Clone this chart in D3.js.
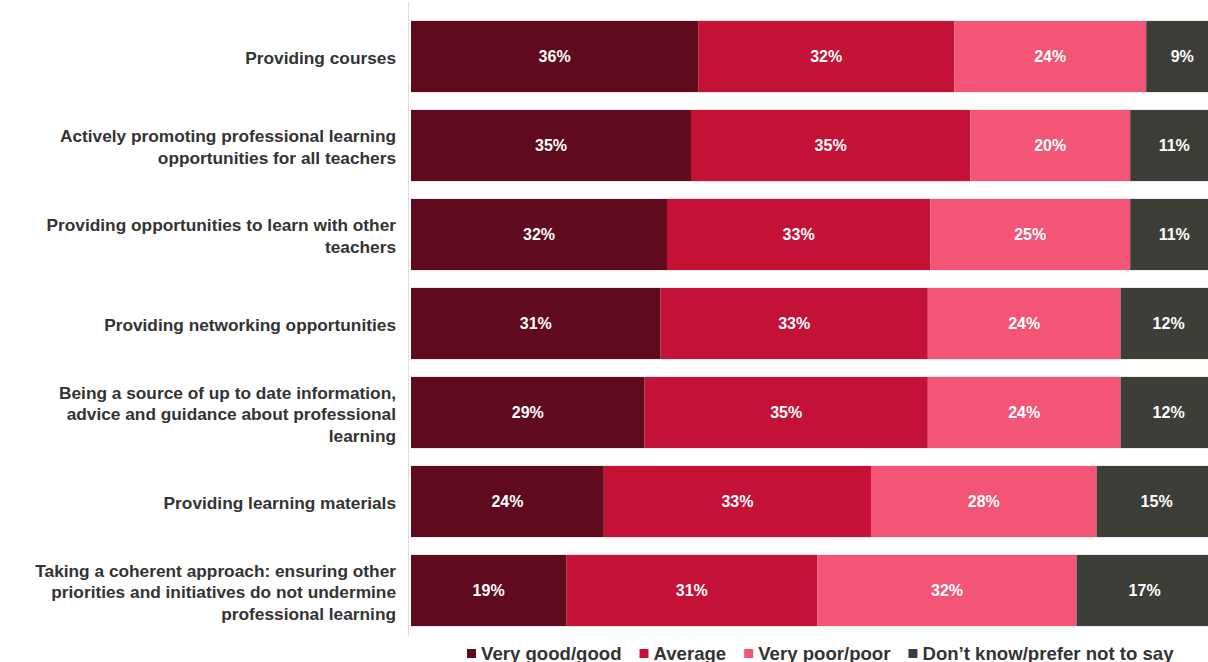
<!DOCTYPE html>
<html><head><meta charset="utf-8">
<script src="https://cdn.jsdelivr.net/npm/d3@7"></script>
<style>html,body{margin:0;padding:0;background:#fff;overflow:hidden}svg{display:block}</style>
</head><body>
<svg id="chart" width="1208" height="662"></svg>
<script>
const categories = [
  "Providing courses",
  "Actively promoting professional learning|opportunities for all teachers",
  "Providing opportunities to learn with other|teachers",
  "Providing networking opportunities",
  "Being a source of up to date information,|advice and guidance about professional|learning",
  "Providing learning materials",
  "Taking a coherent approach: ensuring other|priorities and initiatives do not undermine|professional learning"
];
const seriesNames = ["Very good/good", "Average", "Very poor/poor", "Don\u2019t know/prefer not to say"];
const veryGood  = [35.9, 35.0, 32.0, 31.2, 29.2, 24.1, 19.4];
const average   = [32.0, 34.9, 32.9, 33.4, 35.4, 33.4, 31.4];
const veryPoor  = [24.0, 20.0, 25.0, 24.1, 24.1, 28.2, 32.4];
const dontKnow  = [9.0, 11.0, 11.0, 12.0, 12.0, 15.0, 17.0];
const colors = ["#5f0a1d", "#c41237", "#f35576", "#3e3e39"];

const svg = d3.select("#chart");
const x = d3.scaleLinear().domain([0, 100]).range([411, 1211]);
const y = d3.scaleBand().domain(d3.range(categories.length)).range([12, 635]).paddingInner(0.2).paddingOuter(0.1);

const rows = categories.map((c, i) => ({cat: c, vals: [veryGood[i], average[i], veryPoor[i], dontKnow[i]]}));
const stack = d3.stack().keys([0,1,2,3]).value((d, k) => d.vals[k]);
const stacked = stack(rows);

// faint axis line
svg.append("line").attr("x1", 408.5).attr("x2", 408.5).attr("y1", 2).attr("y2", 636)
  .attr("stroke", "#dddddd").attr("stroke-width", 1);

const g = svg.append("g");
stacked.forEach((s, k) => {
  g.append("g").attr("fill", colors[k]).selectAll("rect").data(s).join("rect")
    .attr("x", d => x(d[0]))
    .attr("y", (d, i) => y(i))
    .attr("width", d => x(d[1]) - x(d[0]))
    .attr("height", y.bandwidth());
  g.append("g").selectAll("text").data(s).join("text")
    .attr("x", d => (x(d[0]) + x(d[1])) / 2)
    .attr("y", (d, i) => y(i) + y.bandwidth() / 2)
    .attr("dy", "0.35em")
    .attr("text-anchor", "middle")
    .attr("fill", "#ffffff")
    .attr("font-family", "Liberation Sans, Arial, sans-serif")
    .attr("font-weight", "bold")
    .attr("font-size", 16)
    .text(d => Math.round(d[1] - d[0]) + "%");
});

// category labels
const lab = svg.append("g").attr("font-family", "Liberation Sans, Arial, sans-serif")
  .attr("font-weight", "bold").attr("font-size", 17.3).attr("fill", "#333333").attr("text-anchor", "end");
categories.forEach((c, i) => {
  const lines = c.split("|");
  const lh = 21.5;
  const cy = y(i) + y.bandwidth() / 2 + 1.5;
  const t = lab.append("text").attr("x", 396).attr("y", cy - (lines.length - 1) * lh / 2);
  lines.forEach((ln, j) => {
    t.append("tspan").attr("x", 396).attr("dy", j === 0 ? "0.35em" : lh).text(ln);
  });
});

// legend
const leg = svg.append("g").attr("font-family", "Liberation Sans, Arial, sans-serif")
  .attr("font-weight", "bold").attr("font-size", 18.6).attr("fill", "#333333");
let lx = 467;
const ly = 659.5;
seriesNames.forEach((n, k) => {
  leg.append("rect").attr("x", lx).attr("y", ly - 10.5).attr("width", 9).attr("height", 9).attr("fill", colors[k]);
  const t = leg.append("text").attr("x", lx + 14).attr("y", ly).text(n);
  const w = t.node().getComputedTextLength();
  lx = lx + 14 + w + 18;
});
</script>
</body></html>
